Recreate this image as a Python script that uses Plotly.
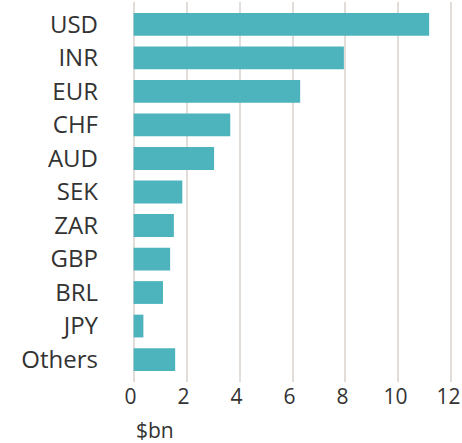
import plotly.graph_objects as go

currencies = ["USD", "INR", "EUR", "CHF", "AUD", "SEK", "ZAR", "GBP", "BRL", "JPY", "Others"]
values = [11.16, 7.94, 6.29, 3.65, 3.04, 1.84, 1.52, 1.38, 1.11, 0.37, 1.57]
x_ticks = [0, 2, 4, 6, 8, 10, 12]

FONT = "Open Sans"
TXT = "#333333"

fig = go.Figure(go.Bar(
    x=values, y=currencies, orientation="h",
    marker=dict(color="#4db3bd", line=dict(width=0)),
))

fig.update_layout(
    width=462, height=443,
    margin=dict(l=132, r=9, t=2, b=61),
    plot_bgcolor="white", paper_bgcolor="white",
    bargap=0.32,
    showlegend=False,
    font=dict(family=FONT, color=TXT, size=22),
    xaxis=dict(
        range=[-0.06, 12.06], tickvals=x_ticks, ticktext=[str(v) for v in x_ticks],
        showgrid=True, gridcolor="#e2ddd8", gridwidth=2,
        zeroline=False, showline=False, ticks="", automargin=False,
        ticklabeloverflow="allow", ticklabelshift=-3,
        tickfont=dict(family=FONT, size=21, color=TXT),
    ),
    yaxis=dict(
        range=[10.67, -0.67], showgrid=False, zeroline=False, showline=False,
        ticks="", ticklabelstandoff=33, automargin=False,
        tickfont=dict(family=FONT, size=24, color=TXT),
    ),
    annotations=[dict(
        text="$bn", xref="x", x=0, xanchor="left", yref="paper", y=-0.126, yanchor="middle",
        showarrow=False, font=dict(family=FONT, size=21, color=TXT),
    )],
)

fig.write_html("out.html", config={"displayModeBar": False},
               post_script="document.body.style.margin='0';")
